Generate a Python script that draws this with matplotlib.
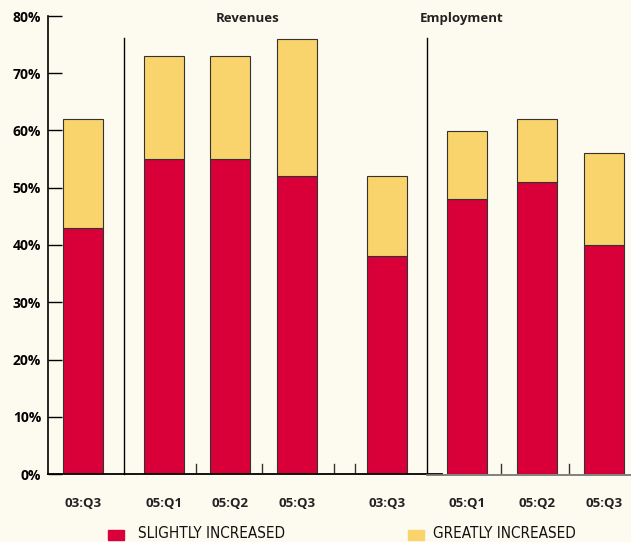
import matplotlib.pyplot as plt

# data
labels = ["03:Q3", "05:Q1", "05:Q2", "05:Q3", "03:Q3", "05:Q1", "05:Q2", "05:Q3"]
slightly = [43, 55, 55, 52, 38, 48, 51, 40]
total = [62, 73, 73, 76, 52, 60, 62, 56]
greatly = [t - s for t, s in zip(total, slightly)]

# layout (x positions in axis units)
xpos = [83, 164, 230, 297, 387, 467, 537, 604]
separators = [124, 427]
small_ticks = [196, 262, 334, 355, 501, 569]

RED = "#D9003A"
YELLOW = "#F9D36B"
BG = "#FDFAEF"

fig = plt.figure(figsize=(6.31, 5.42), dpi=100, facecolor=BG)
ax = fig.add_axes([48 / 631, 1 - 474 / 542, 1 - 48 / 631, (474 - 16) / 542])
ax.set_facecolor(BG)

ax.bar(xpos, slightly, width=40, color=RED, edgecolor="#333333", linewidth=0.8)
ax.bar(xpos, greatly, bottom=slightly, width=40, color=YELLOW, edgecolor="#333333", linewidth=0.8)

for s in separators:
    ax.plot([s, s], [0, 76.2], color="black", lw=1, clip_on=False)
for t in small_ticks:
    ax.plot([t, t], [0, 1.8], color="#333333", lw=1)

ax.set_xlim(48, 631)
ax.set_ylim(0, 80)
ax.set_yticks(range(0, 81, 10))
ax.set_yticklabels([f"{v}%" for v in range(0, 81, 10)], fontsize=10, fontweight="bold",
                   family="Open Sans")
ax.tick_params(axis="y", direction="in", length=10, width=1, pad=5)
ax.set_xticks([])
for sp in ["top", "right", "bottom"]:
    ax.spines[sp].set_visible(False)
ax.spines["left"].set_linewidth(1.2)
# baseline: black under the first part, grey to the right
ax.plot([48, 442], [0, 0], color="black", lw=1.3, clip_on=False)
ax.plot([427, 631], [-0.25, -0.25], color="#777777", lw=1.3, clip_on=False)

for x, lab in zip(xpos, labels):
    ax.text(x, -5.2, lab, ha="center", va="center", fontsize=9.5, fontweight="bold",
            family="Open Sans", color="#222222")

ax.text(248, 79.6, "Revenues", ha="center", va="center", fontsize=9.5, fontweight="bold",
        family="Open Sans", color="#222222")
ax.text(462, 79.6, "Employment", ha="center", va="center", fontsize=9.5, fontweight="bold",
        family="Open Sans", color="#222222")

# legend
legend_font = dict(fontsize=11, family="DejaVu Sans", fontstretch="condensed", color="#111111")
fig.patches.append(plt.Rectangle((108 / 631, 1 - 540 / 542), 16 / 631, 10 / 542,
                                 transform=fig.transFigure, color=RED))
fig.text(138 / 631, 1 - 534 / 542, "SLIGHTLY INCREASED", ha="left", va="center", **legend_font)
fig.patches.append(plt.Rectangle((408 / 631, 1 - 540 / 542), 16 / 631, 10 / 542,
                                 transform=fig.transFigure, color=YELLOW))
fig.text(433 / 631, 1 - 534 / 542, "GREATLY INCREASED", ha="left", va="center", **legend_font)

fig.savefig("out.png", dpi=100, facecolor=BG)
